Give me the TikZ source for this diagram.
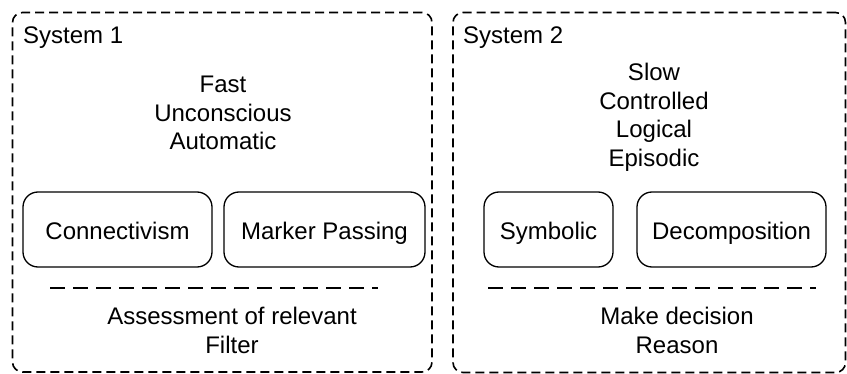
\documentclass[tikz,border=0pt]{standalone}
\usepackage{fontspec}
\setmainfont{Liberation Sans}
\begin{document}
\begin{tikzpicture}[x=1pt,y=-1pt,
  outerbox/.style={draw, dash pattern=on 9pt off 5pt, line width=1.6pt, rounded corners=10pt, inner sep=0pt},
  innerbox/.style={draw, line width=1.3pt, rounded corners=15pt, inner sep=0pt, minimum height=75pt, text height=22pt, text depth=2pt, font=\fontsize{24}{29}\selectfont},
  label/.style={inner sep=0pt, font=\fontsize{24}{29}\selectfont},
  block/.style={inner sep=0pt, align=center, font=\fontsize{24}{28.5}\selectfont},
  sep/.style={dash pattern=on 15pt off 8pt, line width=1.3pt}]
\useasboundingbox (0,0) rectangle (847,374);
% outer boxes
\node[outerbox, minimum width=419.5pt, minimum height=359.5pt] (sys1) at (222.25,192.25) {};
\node[outerbox, minimum width=392.5pt, minimum height=360pt] (sys2) at (649.25,192.5) {};
% titles
\node[label, anchor=north west] (t1) at (23,27) {System 1};
\node[label, anchor=north west] (t2) at (463,27) {System 2};
% property lists
\node[block, anchor=north] (p1) at (223,76) {Fast\\Unconscious\\Automatic};
\node[block, anchor=north] (p2) at (654,63) {Slow\\Controlled\\Logical\\Episodic};
% inner boxes
\node[innerbox, minimum width=189pt] (conn) at (117.5,229.5) {Connectivism};
\node[innerbox, minimum width=201pt] (mark) at (324.5,229.5) {Marker Passing};
\node[innerbox, minimum width=129pt] (symb) at (548.5,229.5) {Symbolic};
\node[innerbox, minimum width=189pt] (deco) at (731.5,229.5) {Decomposition};
% separators
\coordinate (s1a) at (50,288);
\coordinate (s1b) at (378,288);
\coordinate (s2a) at (488,288);
\coordinate (s2b) at (816,288);
\draw[sep] (s1a) -- (s1b);
\draw[sep] (s2a) -- (s2b);
% bottom texts
\node[block, anchor=north] (b1) at (232,307) {Assessment of relevant\\Filter};
\node[block, anchor=north] (b2) at (677,307) {Make decision\\Reason};
\end{tikzpicture}
\end{document}
